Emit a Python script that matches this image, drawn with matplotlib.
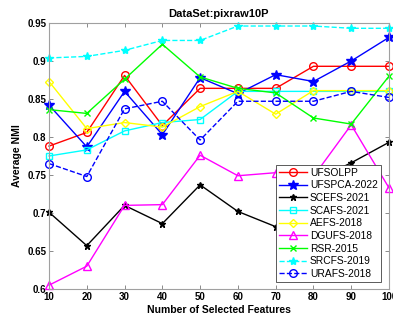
import matplotlib
matplotlib.use("Agg")
import matplotlib.pyplot as plt

plt.rcParams['font.family'] = ['Liberation Sans', 'DejaVu Sans']

features = [10, 20, 30, 40, 50, 60, 70, 80, 90, 100]

ufsolpp = [0.788, 0.806, 0.881, 0.815, 0.864, 0.864, 0.864, 0.893, 0.893, 0.893]
ufspca_2022 = [0.842, 0.787, 0.860, 0.803, 0.878, 0.857, 0.882, 0.873, 0.900, 0.931]
scefs_2021 = [0.701, 0.657, 0.710, 0.686, 0.737, 0.702, 0.682, 0.742, 0.766, 0.793]
scafs_2021 = [0.775, 0.783, 0.808, 0.819, 0.823, 0.860, 0.860, 0.860, 0.860, 0.860]
aefs_2018 = [0.873, 0.811, 0.819, 0.813, 0.840, 0.860, 0.830, 0.861, 0.861, 0.861]
dgufs_2018 = [0.605, 0.630, 0.710, 0.711, 0.776, 0.749, 0.753, 0.748, 0.816, 0.733]
rsr_2015 = [0.836, 0.831, 0.876, 0.922, 0.879, 0.864, 0.858, 0.825, 0.817, 0.880]
srcfs_2019 = [0.904, 0.906, 0.914, 0.927, 0.927, 0.946, 0.946, 0.946, 0.943, 0.943]
urafs_2018 = [0.765, 0.748, 0.837, 0.847, 0.796, 0.847, 0.847, 0.847, 0.860, 0.852]

x_ticks = [10, 20, 30, 40, 50, 60, 70, 80, 90, 100]
y_ticks = [0.6, 0.65, 0.7, 0.75, 0.8, 0.85, 0.9, 0.95]
y_tick_labels = ['0.6', '0.65', '0.7', '0.75', '0.8', '0.85', '0.9', '0.95']

series = [
    ('UFSOLPP', ufsolpp, '#ff0000', 'o', '-', 'none', 5.5),
    ('UFSPCA-2022', ufspca_2022, '#0000ff', '*', '-', '#0000ff', 7.5),
    ('SCEFS-2021', scefs_2021, '#000000', '*', '-', '#000000', 5),
    ('SCAFS-2021', scafs_2021, '#00ffff', 's', '-', 'none', 5),
    ('AEFS-2018', aefs_2018, '#ffff00', 'D', '-', 'none', 4.5),
    ('DGUFS-2018', dgufs_2018, '#ff00ff', '^', '-', 'none', 5.5),
    ('RSR-2015', rsr_2015, '#00ff00', 'x', '-', '#00ff00', 4.5),
    ('SRCFS-2019', srcfs_2019, '#00ffff', '*', '--', '#00ffff', 6),
    ('URAFS-2018', urafs_2018, '#0000ff', 'o', '--', 'none', 5.5),
]

fig = plt.figure(figsize=(3.93, 3.25), dpi=100)
ax = fig.add_axes([0.1247, 0.1108, 0.8651, 0.8185])

for name, vals, color, marker, ls, mfc, ms in series:
    ax.plot(features, vals, color=color, linestyle=ls, linewidth=1.0,
            marker=marker, markersize=ms, markerfacecolor=mfc,
            markeredgecolor=color, markeredgewidth=1.0, label=name,
            clip_on=False)

ax.set_xlim(10, 100)
ax.set_ylim(0.6, 0.95)
ax.set_xticks(x_ticks)
ax.set_xticklabels([str(v) for v in x_ticks], fontsize=7, fontweight='bold')
ax.set_yticks(y_ticks)
ax.set_yticklabels(y_tick_labels, fontsize=7, fontweight='bold')
ax.tick_params(direction='in', length=3, width=0.6, color='#777777',
               top=True, right=True, pad=2)

for sp in ax.spines.values():
    sp.set_color('#a0a0a0')
    sp.set_linewidth(0.8)

ax.set_title('DataSet:pixraw10P', fontsize=8, fontweight='bold', pad=4)
ax.set_xlabel('Number of Selected Features', fontsize=7.5, fontweight='bold', labelpad=2)
ax.set_ylabel('Average NMI', fontsize=7.5, fontweight='bold', labelpad=4)

leg = ax.legend(loc='lower right', bbox_to_anchor=(0.976, 0.026),
                fontsize=7.4, handlelength=2.7, handletextpad=0.3,
                labelspacing=0.26, borderpad=0.3, borderaxespad=0,
                fancybox=False, framealpha=1, edgecolor='#404040')
leg.get_frame().set_linewidth(0.6)

fig.savefig('out.png', dpi=100)
